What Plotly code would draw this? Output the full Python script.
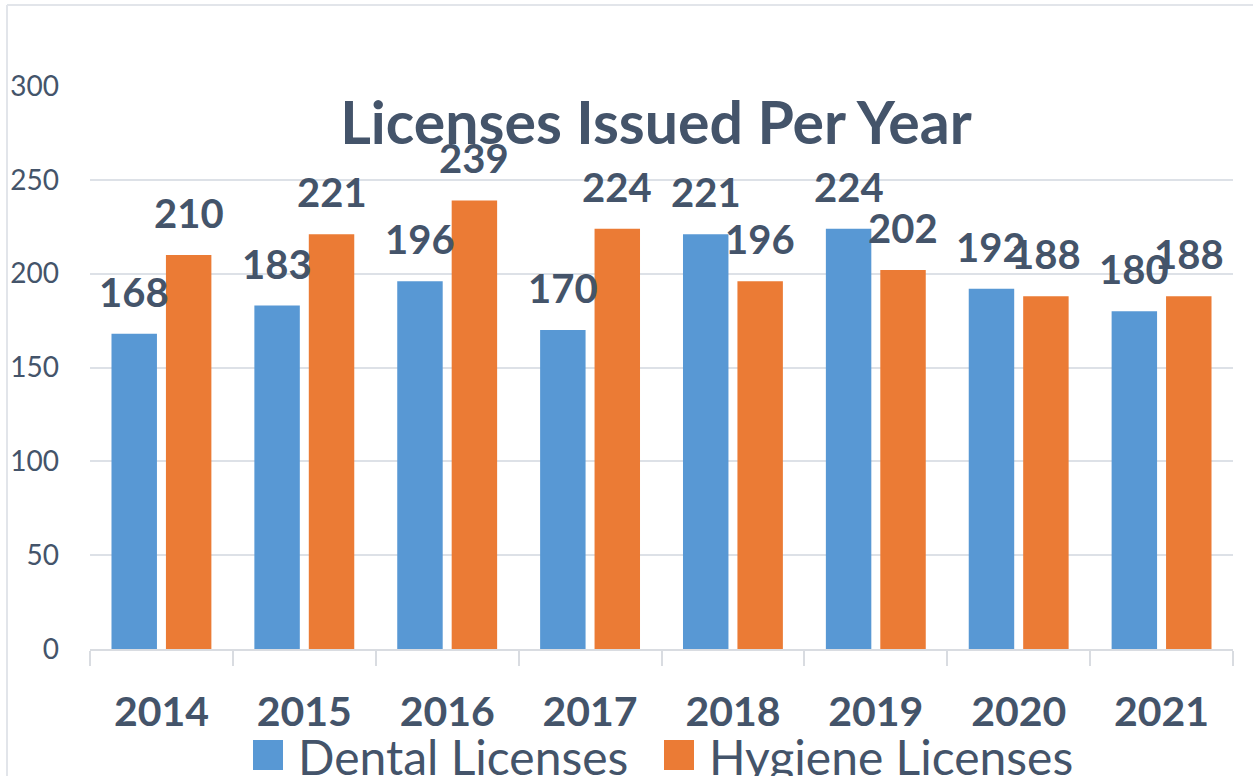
import plotly.graph_objects as go

years = ["2014", "2015", "2016", "2017", "2018", "2019", "2020", "2021"]
dental = [168, 183, 196, 170, 221, 224, 192, 180]
hygiene = [210, 221, 239, 224, 196, 202, 188, 188]
series_names = ["Dental Licenses", "Hygiene Licenses"]
y_ticks = [0, 50, 100, 150, 200, 250, 300]
title_text = "Licenses Issued Per Year"

BLUE = "#5898d4"
ORANGE = "#eb7b35"
TEXT = "#44546a"
GRID = "#dde1e7"
FONT = "Lato"

W, H = 1253, 776
ML, MR, MT, MB = 90, 20, 86, 127
PW, PH = W - ML - MR, H - MT - MB
BARGAP = 0.238


def xp(px):
    return (px - ML) / PW


def yp(py):
    return (H - MB - py) / PH


fig = go.Figure()
fig.add_trace(go.Bar(x=years, y=dental, name=series_names[0], marker_color=BLUE,
                     marker_line_width=0, showlegend=False))
fig.add_trace(go.Bar(x=years, y=hygiene, name=series_names[1], marker_color=ORANGE,
                     marker_line_width=0, showlegend=False))

annotations = []
slot = PW / len(years) * (1 - BARGAP) / 2
for vals, shift in ((dental, -slot / 2), (hygiene, slot / 2)):
    for i, v in enumerate(vals):
        annotations.append(dict(x=i, y=v, xref="x", yref="y", text=str(v),
                                showarrow=False, xshift=shift, yshift=16,
                                yanchor="bottom", xanchor="center",
                                font=dict(family=FONT, size=40, color=TEXT, weight="bold")))

# manual legend
leg = [(253, 283, 296, BLUE, series_names[0]), (664, 694, 707, ORANGE, series_names[1])]
shapes = []
for x0, x1, tx, col, name in leg:
    shapes.append(dict(type="rect", xref="paper", yref="paper", x0=xp(x0), x1=xp(x1),
                       y0=yp(770), y1=yp(740), fillcolor=col, line_width=0))
    annotations.append(dict(x=xp(tx), y=yp(756), xref="paper", yref="paper", text=name,
                            showarrow=False, xanchor="left", yanchor="middle",
                            font=dict(family=FONT, size=48, color=TEXT)))

# chart border (top and left)
shapes.append(dict(type="line", xref="paper", yref="paper", x0=xp(7), x1=xp(W + 5),
                   y0=yp(5), y1=yp(5), line=dict(color="#e2e5ea", width=2)))
shapes.append(dict(type="line", xref="paper", yref="paper", x0=xp(7), x1=xp(7),
                   y0=yp(5), y1=yp(H + 5), line=dict(color="#e2e5ea", width=2)))

fig.update_layout(
    width=W, height=H,
    margin=dict(l=ML, r=MR, t=MT, b=MB, autoexpand=False),
    paper_bgcolor="white", plot_bgcolor="white",
    barmode="group", bargap=BARGAP, bargroupgap=0.165,
    title=dict(text=title_text, x=656 / W, xanchor="center", xref="container",
               y=1 - 123 / H, yanchor="middle", yref="container",
               font=dict(family=FONT, size=59, color=TEXT, weight="bold")),
    annotations=annotations,
    shapes=shapes,
    showlegend=False,
    xaxis=dict(type="category", range=[-0.5, len(years) - 0.5], autorange=False,
               showline=True, linecolor="#d9dce1", linewidth=1.5,
               ticks="outside", tickson="boundaries", ticklen=15, tickcolor="#d9dce1",
               tickwidth=1.5, showgrid=False, tickangle=0, automargin=False,
               tickfont=dict(family=FONT, size=41, color=TEXT, weight="bold"),
               ticklabelstandoff=26),
    yaxis=dict(range=[0, 300], autorange=False, tickvals=y_ticks, showgrid=True,
               gridcolor=GRID, gridwidth=1.5, zeroline=False, showline=False,
               automargin=False,
               tickfont=dict(family=FONT, size=28, color=TEXT),
               ticklabelstandoff=30),
)

fig.write_html("out.html", config={"displayModeBar": False},
               post_script="document.body.style.margin='0';")
